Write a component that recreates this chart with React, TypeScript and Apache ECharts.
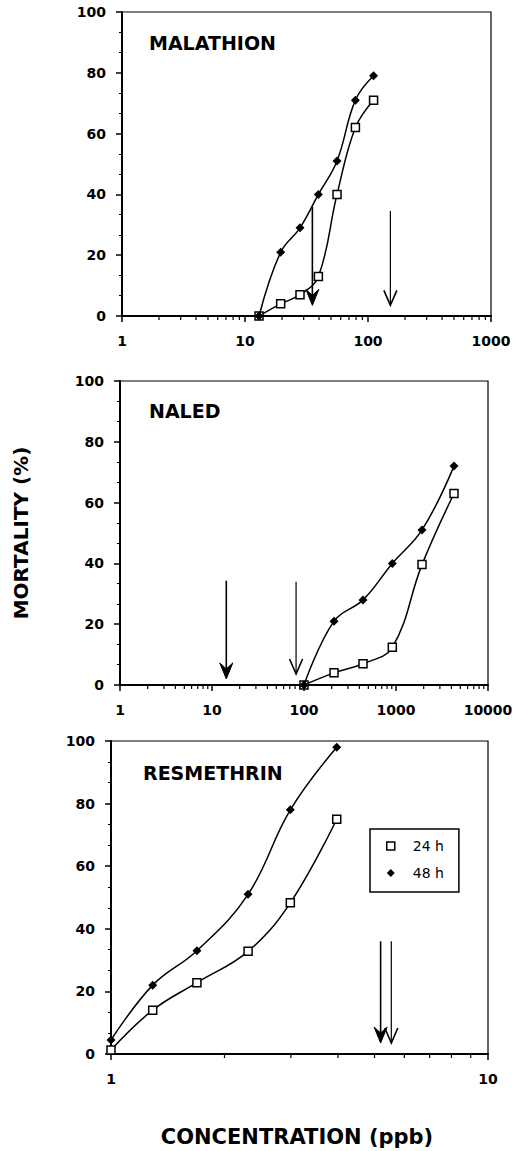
import React, { useEffect, useRef } from "react";
import * as echarts from "echarts";

// ---------- data ----------
const malathionConc = [13, 19.5, 28, 39.5, 56, 79, 111];
const malathion24h = [0, 4, 7, 13, 40, 62, 71];
const malathion48h = [0, 21, 29, 40, 51, 71, 79];

const naledConc = [100, 212, 438, 912, 1918, 4270];
const naled24h = [0, 4, 7, 12.4, 39.6, 63];
const naled48h = [0, 21, 28, 40, 51, 72];

const resmethrinConc = [1, 1.29, 1.69, 2.31, 2.99, 3.97];
const resmethrin24h = [1.3, 14, 22.8, 32.8, 48.3, 75];
const resmethrin48h = [4.5, 22, 33, 51, 78, 98];

// arrows: [concentration, top (%), tip (%), filled head 1 / open head 0]
const malathionArrows = [
  [35.3, 36, 3.5, 1],
  [152, 34.5, 3.5, 0],
];
const naledArrows = [
  [14.3, 34.3, 2, 1],
  [82, 34, 3.6, 0],
];
const resmethrinArrows = [
  [5.19, 36, 3.5, 1],
  [5.54, 36, 3.5, 0],
];

const panelTitles = ["MALATHION", "NALED", "RESMETHRIN"];
const xMaxes = [1000, 10000, 10];
const yMin = 0;
const yMax = 100;
const yInterval = 20;
const legendLabels = ["24 h", "48 h"];
const xTitle = "CONCENTRATION (ppb)";
const yTitle = "MORTALITY (%)";

const panels = [
  { conc: malathionConc, h24: malathion24h, h48: malathion48h, arrows: malathionArrows },
  { conc: naledConc, h24: naled24h, h48: naled48h, arrows: naledArrows },
  { conc: resmethrinConc, h24: resmethrin24h, h48: resmethrin48h, arrows: resmethrinArrows },
];

// layout
const grids = [
  { left: 122, top: 12, width: 369, height: 304 },
  { left: 120, top: 381, width: 368, height: 304 },
  { left: 111, top: 741, width: 377, height: 313 },
];
const titlePos = [
  [149, 43],
  [149, 410.5],
  [143, 773],
];

const FONT = '"DejaVu Sans", "Liberation Sans", Arial, sans-serif';
const SQUARE_ICON = "path://M0,0H10V10H0Z";
const DIAMOND_ICON = "path://M5,0L10,5L5,10L0,5Z";

function logMinorTicks(max: number): number[][] {
  const out: number[][] = [];
  for (let d = 1; d < max; d *= 10) {
    for (let k = 2; k <= 9; k++) out.push([k * d, 0]);
  }
  return out;
}

export default function App() {
  const ref = useRef<HTMLDivElement>(null);

  useEffect(() => {
    if (!ref.current) return;
    const chart = echarts.init(ref.current, null, { renderer: "svg" });

    const xAxis: any[] = [];
    const yAxis: any[] = [];
    const series: any[] = [];

    panels.forEach((p, i) => {
      xAxis.push({
        type: "log",
        logBase: 10,
        min: 1,
        max: xMaxes[i],
        gridIndex: i,
        axisLine: { show: true, lineStyle: { color: "#000", width: 2 } },
        axisTick: { show: true, length: 6, lineStyle: { color: "#000", width: 1.5 } },
        minorTick: { show: false },
        splitLine: { show: false },
        axisLabel: {
          margin: 18,
          color: "#000",
          fontFamily: FONT,
          fontWeight: "bold",
          fontSize: 14,
          showMinLabel: true,
          showMaxLabel: true,
          formatter: (v: number) => String(Math.round(v)),
        },
      });
      yAxis.push({
        type: "value",
        min: yMin,
        max: yMax,
        interval: yInterval,
        gridIndex: i,
        axisLine: { show: true, lineStyle: { color: "#000", width: 2 } },
        axisTick: { show: true, length: 6, lineStyle: { color: "#000", width: 1.5 } },
        minorTick: { show: true, splitNumber: 3, length: 3, lineStyle: { color: "#000", width: 1 } },
        splitLine: { show: false },
        minorSplitLine: { show: false },
        axisLabel: {
          margin: 16,
          color: "#000",
          fontFamily: FONT,
          fontWeight: "bold",
          fontSize: 14,
        },
      });

      series.push({
        name: legendLabels[0],
        type: "line",
        xAxisIndex: i,
        yAxisIndex: i,
        data: p.conc.map((c, j) => [c, p.h24[j]]),
        smooth: 0.4,
        symbol: "rect",
        symbolSize: 8,
        showAllSymbol: true,
        lineStyle: { color: "#000", width: 1.5 },
        itemStyle: { color: "#fff", borderColor: "#000", borderWidth: 1.5 },
        z: 4,
      });
      series.push({
        name: legendLabels[1],
        type: "line",
        xAxisIndex: i,
        yAxisIndex: i,
        data: p.conc.map((c, j) => [c, p.h48[j]]),
        smooth: 0.4,
        symbol: "diamond",
        symbolSize: 9,
        showAllSymbol: true,
        lineStyle: { color: "#000", width: 1.5 },
        itemStyle: { color: "#000" },
        z: 5,
      });
      // arrows
      series.push({
        type: "custom",
        xAxisIndex: i,
        yAxisIndex: i,
        clip: false,
        silent: true,
        encode: { x: 0, y: [1, 2] },
        data: p.arrows,
        renderItem: (params: any, api: any) => {
          const x = api.value(0);
          const top = api.coord([x, api.value(1)]);
          const tip = api.coord([x, api.value(2)]);
          const filled = api.value(3) === 1;
          const tx = tip[0];
          const ty = tip[1];
          const children: any[] = [
            {
              type: "line",
              shape: { x1: top[0], y1: top[1], x2: tx, y2: filled ? ty - 8 : ty },
              style: { stroke: "#000", lineWidth: filled ? 1.6 : 1.2 },
            },
          ];
          if (filled) {
            children.push({
              type: "polygon",
              shape: {
                points: [
                  [tx, ty],
                  [tx - 6.5, ty - 16],
                  [tx, ty - 10],
                  [tx + 6.5, ty - 16],
                ],
              },
              style: { fill: "#000", stroke: "#000", lineWidth: 1 },
            });
          } else {
            children.push({
              type: "polyline",
              shape: {
                points: [
                  [tx - 6.5, ty - 15],
                  [tx, ty],
                  [tx + 6.5, ty - 15],
                ],
              },
              style: { stroke: "#000", lineWidth: 1.6, fill: null },
            });
          }
          return { type: "group", children };
        },
        z: 3,
      });
      // log minor ticks on the x axis
      series.push({
        type: "custom",
        xAxisIndex: i,
        yAxisIndex: i,
        clip: false,
        silent: true,
        encode: { x: 0, y: 1 },
        data: logMinorTicks(xMaxes[i]),
        renderItem: (params: any, api: any) => {
          const pt = api.coord([api.value(0), 0]);
          return {
            type: "line",
            shape: { x1: pt[0], y1: pt[1], x2: pt[0], y2: pt[1] + 4 },
            style: { stroke: "#000", lineWidth: 1.2 },
          };
        },
        z: 2,
      });
    });

    const graphic: any[] = panelTitles.map((t, i) => ({
      type: "text",
      x: titlePos[i][0],
      y: titlePos[i][1],
      style: {
        text: t,
        font: `bold 19px ${FONT}`,
        fill: "#000",
        align: "left",
        verticalAlign: "middle",
      },
    }));
    graphic.push({
      type: "text",
      x: 21,
      y: 533,
      rotation: Math.PI / 2,
      style: {
        text: yTitle,
        font: `bold 20px ${FONT}`,
        fill: "#000",
        align: "center",
        verticalAlign: "middle",
      },
    });
    graphic.push({
      type: "text",
      x: 297,
      y: 1137,
      style: {
        text: xTitle,
        font: `bold 21px ${FONT}`,
        fill: "#000",
        align: "center",
        verticalAlign: "middle",
      },
    });

    chart.setOption({
      animation: false,
      backgroundColor: "#fff",
      grid: grids.map((g) => ({
        ...g,
        show: true,
        borderColor: "#000",
        borderWidth: 1.2,
        backgroundColor: "transparent",
      })),
      xAxis,
      yAxis,
      legend: {
        orient: "vertical",
        left: 370,
        top: 829,
        padding: [10, 15, 12, 16],
        itemGap: 13,
        itemWidth: 34,
        itemHeight: 8,
        symbolKeepAspect: true,
        borderColor: "#000",
        borderWidth: 1.5,
        selectedMode: false,
        textStyle: { fontFamily: FONT, fontSize: 14, color: "#000" },
        data: [
          {
            name: legendLabels[0],
            icon: SQUARE_ICON,
            itemStyle: { color: "#fff", borderColor: "#000", borderWidth: 1.5 },
          },
          {
            name: legendLabels[1],
            icon: DIAMOND_ICON,
            itemStyle: { color: "#000", borderWidth: 0 },
          },
        ],
      },
      graphic,
      series,
    });

    return () => chart.dispose();
  }, []);

  return (
    <div
      ref={ref}
      style={{ position: "absolute", left: 0, top: 0, width: 516, height: 1151 }}
    />
  );
}
